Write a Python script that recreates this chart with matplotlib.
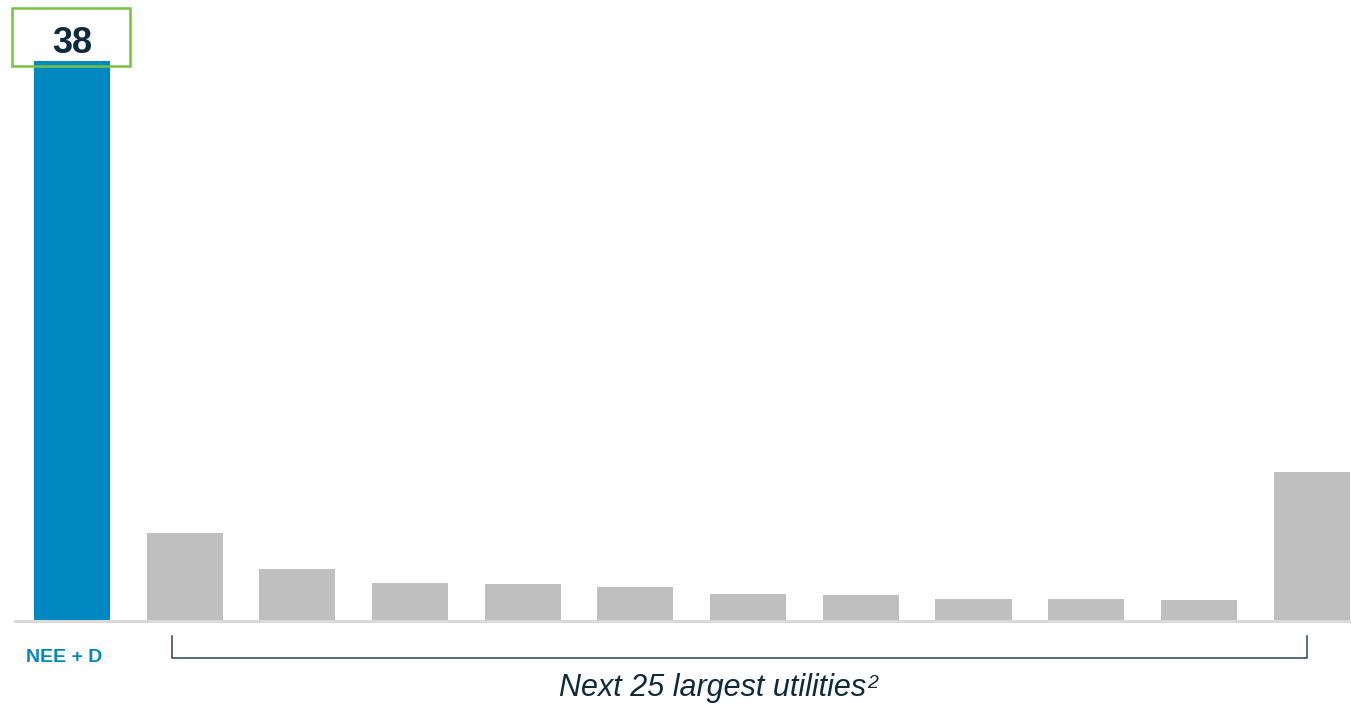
import matplotlib.pyplot as plt
from matplotlib.patches import Rectangle

plt.rcParams['font.family'] = ['Liberation Sans', 'DejaVu Sans']

# data
categories = ["NEE + D"] + ["utility %d" % i for i in range(1, 12)]
values = [38, 6.0, 3.5, 2.6, 2.5, 2.3, 1.8, 1.75, 1.5, 1.5, 1.4, 10.1]
highlight_label = "NEE + D"
group_label = "Next 25 largest utilities"

blue = "#0089c1"
grey = "#bfbfbf"
navy = "#0e2a3d"
green = "#7ac143"

fig = plt.figure(figsize=(13.51, 7.04), dpi=100)
ax = fig.add_axes([15 / 1351, 83 / 704, 1 - 15 / 1351, 560 / 704])

x = list(range(len(values)))
colors = [blue] + [grey] * (len(values) - 1)
ax.bar(x, values, width=0.675, color=colors, zorder=2)

ax.set_xlim(-0.506, 11.35)
ax.set_ylim(0, values[0])
for s in ["top", "right", "left"]:
    ax.spines[s].set_visible(False)
ax.spines["bottom"].set_color("#d9d9d9")
ax.spines["bottom"].set_linewidth(2.2)
ax.set_xticks([])
ax.set_yticks([])

# value box on the highlighted bar
v = values[0]
ax.add_patch(Rectangle((-0.532, v - 0.35), 1.047, 3.95, fill=False,
                       edgecolor=green, lw=1.8, clip_on=False, zorder=3))
ax.text(0, v + 1.17, f"{v:.0f}", ha="center", va="center", fontsize=26,
        fontweight="bold", color=navy, clip_on=False)

# highlighted category label
ax.text(-0.07, -2.5, highlight_label, ha="center", va="center", fontsize=14,
        fontweight="bold", color=blue, clip_on=False)

# bracket under the grey bars
bx0, bx1 = 0.887, 10.96
by0, by1 = -1.02, -2.5
ax.plot([bx0, bx0, bx1, bx1], [by0, by1, by1, by0], color="#2a4555", lw=1.1,
        clip_on=False, solid_joinstyle="miter")

t = ax.text(5.68, -5.1, group_label, ha="center", va="baseline", fontsize=22,
            style="italic", color=navy, clip_on=False)
ax.annotate("2", xy=(1.0, 1.0), xycoords=t, xytext=(1, -1),
            textcoords="offset points", ha="left", va="top", fontsize=14,
            style="italic", color=navy, annotation_clip=False)

fig.savefig("out.png", dpi=100)
